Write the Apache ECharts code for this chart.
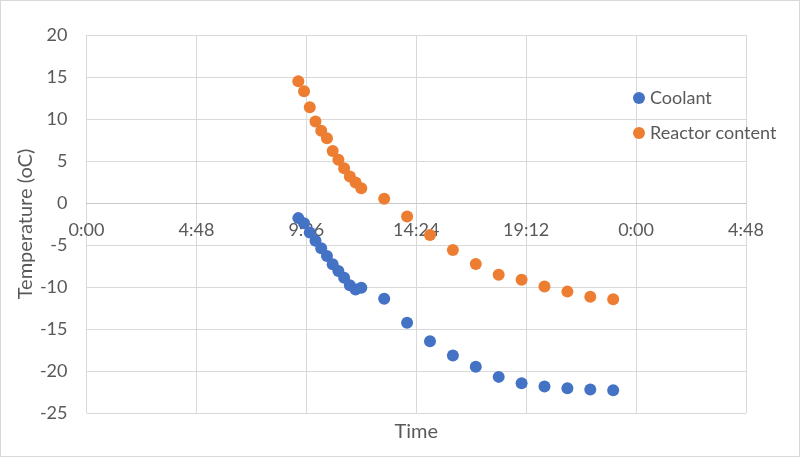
<!DOCTYPE html>
<html>
<head>
<meta charset="utf-8">
<script src="https://cdn.jsdelivr.net/npm/echarts@6/dist/echarts.min.js"></script>
<style>
  html, body { margin: 0; padding: 0; background: #fff; }
  #chart { width: 798px; height: 455px; border: 1px solid #d9d9d9; }
</style>
</head>
<body>
<div id="chart"></div>
<script>
// sample times (clock time on the day of the run)
var times = ['9:15', '9:30', '9:45', '10:00', '10:15', '10:30', '10:45', '11:00', '11:15', '11:30', '11:45', '12:00',
             '13:00', '14:00', '15:00', '16:00', '17:00', '18:00', '19:00', '20:00', '21:00', '22:00', '23:00'];
var coolant = [-1.8, -2.4, -3.5, -4.5, -5.4, -6.3, -7.3, -8.1, -8.9, -9.8, -10.3, -10.1,
               -11.4, -14.25, -16.45, -18.15, -19.5, -20.7, -21.45, -21.85, -22.05, -22.2, -22.3];
var reactor = [14.5, 13.3, 11.4, 9.7, 8.6, 7.7, 6.2, 5.15, 4.15, 3.15, 2.45, 1.75,
               0.5, -1.6, -3.8, -5.6, -7.25, -8.55, -9.15, -9.95, -10.55, -11.15, -11.45];

// excel style: time as fraction of a day
function toDay(t) {
    var p = t.split(':');
    return (parseInt(p[0]) * 60 + parseInt(p[1])) / 1440;
}
function fmtTime(v) {
    var m = Math.round(v * 1440) % 1440;
    var mm = m % 60;
    return Math.floor(m / 60) + ':' + (mm < 10 ? '0' : '') + mm;
}

var dom = document.getElementById('chart');
var myChart = echarts.init(dom, null, { renderer: 'canvas' });

var txt = '#595959';
var font = 'Lato';

// the time axis crosses at 0 degC; onZero did not take here, so lift it by offset
var gridTop = 34, gridBottom = 43, yMin = -25, yMax = 20;
var plotH = 455 - gridTop - gridBottom;
var zeroLift = plotH * (0 - yMin) / (yMax - yMin);

var option = {
    animation: false,
    textStyle: { fontFamily: font },
    grid: { left: 85.5, right: 53, top: gridTop, bottom: gridBottom, containLabel: false, outerBoundsMode: 'none' },
    legend: {
        orient: 'vertical',
        left: 627,
        top: 83,
        icon: 'circle',
        itemWidth: 12,
        itemHeight: 12,
        itemGap: 17,
        textStyle: { fontSize: 18, color: txt, fontFamily: font },
        data: ['Coolant', 'Reactor content']
    },
    xAxis: {
        type: 'value',
        min: 0,
        max: 1.2,
        interval: 0.2,
        position: 'bottom',
        offset: -zeroLift,
        name: 'Time',
        nameLocation: 'middle',
        nameGap: 219,
        nameTextStyle: { fontSize: 20, color: txt },
        axisLine: { show: true, onZero: false, lineStyle: { color: '#c8c8c8' } },
        axisTick: { show: false },
        axisLabel: { formatter: fmtTime, fontSize: 18, color: txt, margin: 18 },
        splitLine: { show: true, lineStyle: { color: '#d9d9d9' } }
    },
    yAxis: {
        type: 'value',
        min: yMin,
        max: yMax,
        interval: 5,
        name: 'Temperature (oC)',
        nameLocation: 'middle',
        nameGap: 51,
        nameMoveOverlap: false,
        nameTextStyle: { fontSize: 20, color: txt },
        axisLine: { show: false },
        axisTick: { show: false },
        axisLabel: { fontSize: 18, color: txt, margin: 19 },
        splitLine: { show: true, lineStyle: { color: '#d9d9d9' } }
    },
    series: [
        {
            name: 'Coolant',
            type: 'scatter',
            symbolSize: 12,
            itemStyle: { color: '#4472C4', opacity: 1 },
            data: times.map(function (t, i) { return [toDay(t), coolant[i]]; })
        },
        {
            name: 'Reactor content',
            type: 'scatter',
            symbolSize: 12,
            itemStyle: { color: '#ED7D31', opacity: 1 },
            data: times.map(function (t, i) { return [toDay(t), reactor[i]]; })
        }
    ]
};

myChart.setOption(option);
window.addEventListener('resize', myChart.resize);
</script>
</body>
</html>
